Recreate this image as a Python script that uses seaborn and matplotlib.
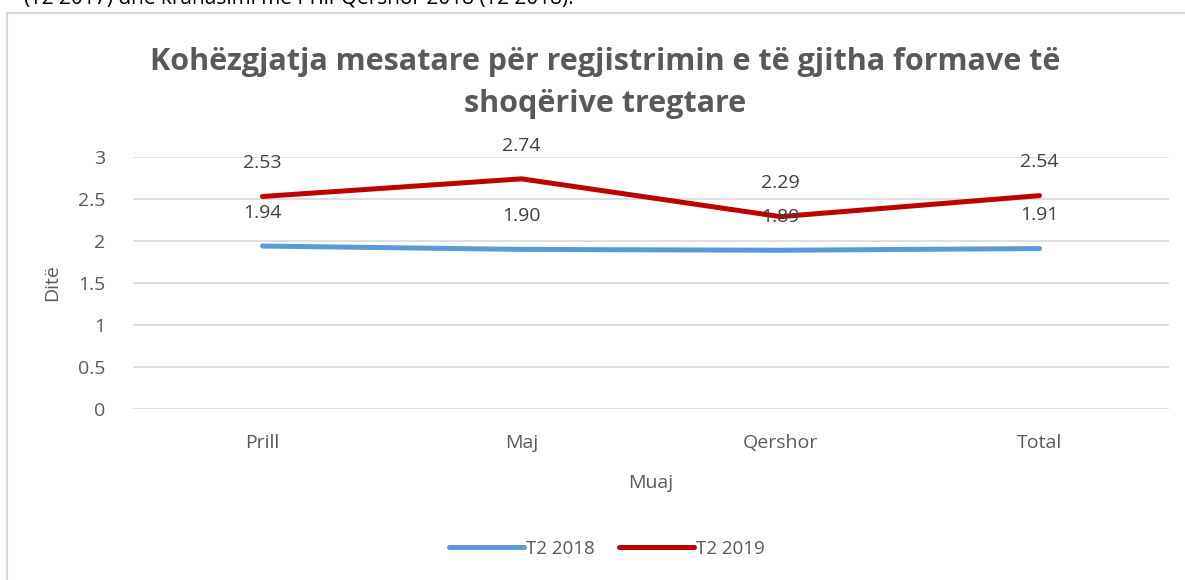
import matplotlib.pyplot as plt
import matplotlib.patches as mpatches
from matplotlib.lines import Line2D
import pandas as pd
import seaborn as sns

MONTHS = ["Prill", "Maj", "Qershor", "Total"]
T2_2018 = [1.94, 1.90, 1.89, 1.91]
T2_2019 = [2.53, 2.74, 2.29, 2.54]
SERIES = ["T2 2018", "T2 2019"]
COLORS = {"T2 2018": "#5B9BD5", "T2 2019": "#C00000"}
YTICKS = [0, 0.5, 1, 1.5, 2, 2.5, 3]

TITLE = "Kohëzgjatja mesatare për regjistrimin e të gjitha formave të\nshoqërive tregtare"

df = pd.DataFrame({
    "Muaj": MONTHS * 2,
    "x": list(range(len(MONTHS))) * 2,
    "Ditë": T2_2018 + T2_2019,
    "seri": [SERIES[0]] * len(MONTHS) + [SERIES[1]] * len(MONTHS),
})

sns.set_theme(style="white")
plt.rcParams["font.family"] = ["Open Sans", "DejaVu Sans"]

fig = plt.figure(figsize=(11.85, 5.8), dpi=100)
fig.patch.set_facecolor("white")

# document text cut off at top + chart border
fig.text(0.02, 1.0 + 0.004, "(T2 2017) dhe krahasimi me Prill-Qershor 2018 (T2 2018).",
         ha="left", va="center", fontsize=15, color="#000000")
fig.patches.append(mpatches.Rectangle((7 / 1185, -0.05), 1.2, 1 - 13 / 580 + 0.05,
                                      transform=fig.transFigure, fill=False,
                                      edgecolor="#D9D9D9", linewidth=1.5))

ax = fig.add_axes([133 / 1185, 1 - 409 / 580, (1169 - 133) / 1185, (409 - 157) / 580])

sns.lineplot(data=df, x="x", y="Ditë", hue="seri", palette=COLORS, linewidth=3.6,
             ax=ax, legend=False, solid_capstyle="round", sort=False)

for s, vals in zip(SERIES, [T2_2018, T2_2019]):
    for i, v in enumerate(vals):
        ax.annotate(f"{v:.2f}", (i, v), xytext=(0, 24), textcoords="offset points",
                    ha="center", va="center", fontsize=14, color="#404040")

ax.set_xlim(-0.5, len(MONTHS) - 0.5)
ax.set_ylim(0, 3)
ax.set_yticks(YTICKS)
ax.set_yticklabels(["0", "0.5", "1", "1.5", "2", "2.5", "3"])
ax.set_xticks(range(len(MONTHS)))
ax.set_xticklabels(MONTHS)
ax.tick_params(axis="both", colors="#595959", labelsize=14, length=0)
ax.tick_params(axis="y", pad=20)
ax.tick_params(axis="x", pad=18)
ax.grid(axis="y", color="#D9D9D9", linewidth=1.2)
ax.set_axisbelow(True)
for sp in ax.spines.values():
    sp.set_visible(False)

ax.set_ylabel("Ditë", fontsize=14, color="#595959", labelpad=12)
ax.set_xlabel("Muaj", fontsize=14, color="#595959", labelpad=16)

fig.text(605 / 1185, 1 - 83 / 580, TITLE, ha="center", va="center",
         fontsize=22, fontweight="bold", color="#595959", linespacing=1.5)

handles = [Line2D([0], [0], color=COLORS[s], linewidth=3.6, solid_capstyle="round") for s in SERIES]
fig.legend(handles, SERIES, loc="center", bbox_to_anchor=(607 / 1185, 1 - 549 / 580), ncol=2,
           frameon=False, fontsize=13.5, labelcolor="#595959", handlelength=4.0,
           handletextpad=0.1, columnspacing=1.3)

fig.savefig("out.png", dpi=100, facecolor="white")
